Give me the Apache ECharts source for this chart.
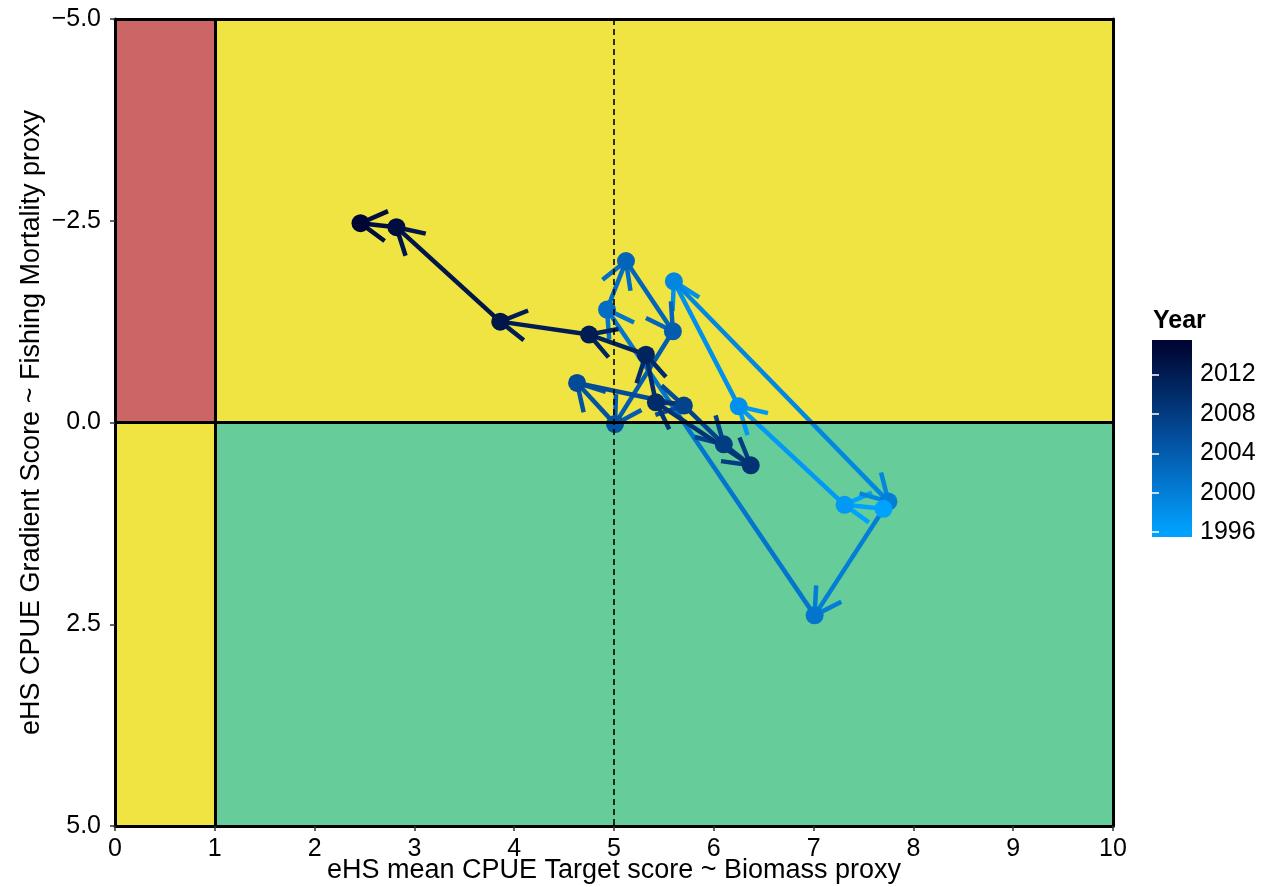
<!DOCTYPE html>
<html><head><meta charset="utf-8">
<script src="https://cdn.jsdelivr.net/npm/echarts@6/dist/echarts.min.js"></script>
<style>html,body{margin:0;padding:0;background:#fff}#c{width:1272px;height:887px}</style>
</head><body><div id="c"></div>
<script>
// ---- data ----
const years = [1996,1997,1998,1999,2000,2001,2002,2003,2004,2005,2006,2007,2008,2009,2010,2011,2012,2013,2014,2015];
const targetScore = [7.70,7.31,6.25,5.60,7.75,7.01,4.93,5.12,5.59,5.01,4.63,5.70,6.10,6.37,5.42,5.32,4.75,3.86,2.82,2.46];
const gradientScore = [1.07,1.02,-0.20,-1.75,0.98,2.39,-1.40,-2.00,-1.13,0.02,-0.49,-0.21,0.27,0.53,-0.25,-0.84,-1.09,-1.25,-2.42,-2.47];
const xTicks = [0,1,2,3,4,5,6,7,8,9,10];
const yTicks = [-5,-2.5,0,2.5,5];
const legendTicks = [1996,2000,2004,2008,2012];
// zones
const zoneX0 = [0,0,1,1];
const zoneX1 = [1,1,10,10];
const zoneY0 = [-5,0,-5,0];
const zoneY1 = [0,5,0,5];
const zoneColors = ['#CC6666','#F0E442','#F0E442','#66CC99'];

// ---- colour scale ----
const yMin = 1996, yMax = 2015;
const stops = [[0,[0,162,255]],[0.25,[3,119,208]],[0.5,[3,79,158]],[0.75,[1,42,102]],[1,[0,5,51]]];
function yearColor(y){
  let t = (y - yMin)/(yMax - yMin); t = Math.max(0, Math.min(1, t));
  for (let i=0;i<stops.length-1;i++){
    const a=stops[i], b=stops[i+1];
    if (t<=b[0]){
      const f=(t-a[0])/(b[0]-a[0]);
      const c=a[1].map((v,k)=>Math.round(v+(b[1][k]-v)*f));
      return 'rgb('+c.join(',')+')';
    }
  }
  return 'rgb('+stops[stops.length-1][1].join(',')+')';
}

const segData = [];
for (let i=0;i<years.length-1;i++){
  segData.push([targetScore[i],gradientScore[i],targetScore[i+1],gradientScore[i+1],years[i]]);
}
const ptData = years.map((y,i)=>[targetScore[i],gradientScore[i],y]).reverse();

const FONT = '"Liberation Sans", Arial, sans-serif';
const minus = v => String(v).replace('-', '\u2212');

const chart = echarts.init(document.getElementById('c'), null, {renderer:'canvas'});
const legTop = 340, legH = 197;
const option = {
  animation:false,
  backgroundColor:'#fff',
  textStyle:{fontFamily:FONT},
  grid:[
    {left:115, top:19, right:159, bottom:61, containLabel:false, outerBoundsMode:'none'},
    {left:1152, top:legTop, width:40, height:legH, containLabel:false, outerBoundsMode:'none'}
  ],
  xAxis:[
    {type:'value', gridIndex:0, min:0, max:10, interval:1, position:'bottom', z:10,
     axisLine:{show:true, onZero:false, lineStyle:{color:'#000', width:3}},
     axisTick:{show:true, length:5, lineStyle:{color:'#333', width:1.5}},
     axisLabel:{color:'#000', fontSize:25, margin:11, fontFamily:FONT},
     splitLine:{show:false},
     name:'eHS mean CPUE Target score ~ Biomass proxy', nameLocation:'middle', nameGap:31, nameMoveOverlap:false,
     nameTextStyle:{color:'#000', fontSize:27, fontFamily:FONT}},
    {type:'value', gridIndex:0, min:0, max:10, position:'top', z:10,
     axisLine:{show:true, onZero:false, lineStyle:{color:'#000', width:3}},
     axisTick:{show:false}, axisLabel:{show:false}, splitLine:{show:false}},
    {type:'value', gridIndex:1, min:0, max:1, show:false}
  ],
  yAxis:[
    {type:'value', gridIndex:0, min:-5, max:5, interval:2.5, inverse:true, position:'left', z:10,
     axisLine:{show:true, onZero:false, lineStyle:{color:'#000', width:3}},
     axisTick:{show:true, length:5, lineStyle:{color:'#333', width:1.5}},
     axisLabel:{color:'#000', fontSize:25, margin:14, fontFamily:FONT, formatter:v=>minus(v.toFixed(1))},
     splitLine:{show:false},
     name:'eHS CPUE Gradient Score ~ Fishing Mortality proxy', nameLocation:'middle', nameGap:70, nameMoveOverlap:false,
     nameTextStyle:{color:'#000', fontSize:27, fontFamily:FONT}},
    {type:'value', gridIndex:0, min:-5, max:5, inverse:true, position:'right', z:10,
     axisLine:{show:true, onZero:false, lineStyle:{color:'#000', width:3}},
     axisTick:{show:false}, axisLabel:{show:false}, splitLine:{show:false}},
    {type:'value', gridIndex:1, min:yMin-0.5, max:yMax+0.5, position:'right', z:10,
     axisLine:{show:false},
     axisTick:{show:true, inside:true, length:7, customValues:legendTicks, lineStyle:{color:'#fff', width:1.5}},
     axisLabel:{show:true, customValues:legendTicks, color:'#000', fontSize:25, margin:8, fontFamily:FONT, formatter:v=>String(v)},
     splitLine:{show:false}},
    {type:'value', gridIndex:1, min:yMin-0.5, max:yMax+0.5, position:'left', z:10,
     axisLine:{show:false},
     axisTick:{show:true, inside:true, length:7, customValues:legendTicks, lineStyle:{color:'#fff', width:1.5}},
     axisLabel:{show:false}, splitLine:{show:false}}
  ],
  graphic:[
    {type:'rect', left:1152, top:legTop, z:-1, shape:{width:40, height:legH},
     style:{fill:{type:'linear', x:0, y:1, x2:0, y2:0, colorStops:[
       {offset:0, color:yearColor(yMin-0.5)},
       ...[0.05,0.25,0.5,0.75,0.95].map(o=>({offset:o, color:yearColor(yMin-0.5+o*(yMax-yMin+1))})),
       {offset:1, color:yearColor(yMax+0.5)}]}}},
    {type:'text', left:1153, top:309, style:{text:'Year', font:'bold 25px '+FONT, fill:'#000'}}
  ],
  series:[
    {type:'line', xAxisIndex:0, yAxisIndex:0, data:[], z:1, silent:true,
     markArea:{silent:true, itemStyle:{opacity:1},
       data: zoneColors.map((c,i)=>[{xAxis:zoneX0[i], yAxis:zoneY0[i], itemStyle:{color:c}},{xAxis:zoneX1[i], yAxis:zoneY1[i]}])},
     markLine:{silent:true, symbol:'none', label:{show:false},
       data:[
         {xAxis:1, lineStyle:{color:'#000', width:3, type:'solid'}},
         {yAxis:0, lineStyle:{color:'#000', width:3, type:'solid'}},
         {xAxis:5, lineStyle:{color:'#000', width:1.6, type:[6,4]}}
       ]}},
    {type:'custom', xAxisIndex:0, yAxisIndex:0, z:3, silent:true,
     data:segData, encode:{x:[0,2], y:[1,3]},
     renderItem:function(params, api){
       const p0 = api.coord([api.value(0), api.value(1)]);
       const p1 = api.coord([api.value(2), api.value(3)]);
       const col = yearColor(api.value(4));
       const ang = Math.atan2(p0[1]-p1[1], p0[0]-p1[0]);
       const L = 30, a = Math.PI/6;
       const b1 = [p1[0]+L*Math.cos(ang+a), p1[1]+L*Math.sin(ang+a)];
       const b2 = [p1[0]+L*Math.cos(ang-a), p1[1]+L*Math.sin(ang-a)];
       return {type:'group', children:[
         {type:'polyline', shape:{points:[p0,p1]}, style:{stroke:col, lineWidth:4.5, fill:null, lineCap:'butt'}},
         {type:'polyline', shape:{points:[b1,p1,b2]}, style:{stroke:col, lineWidth:4.5, fill:null, lineCap:'butt', lineJoin:'miter'}}
       ]};
     }},
    {type:'scatter', xAxisIndex:0, yAxisIndex:0, z:4, silent:true, symbol:'circle', symbolSize:18,
     data:ptData,
     itemStyle:{opacity:1, color:p=>yearColor(p.data[2])}}
  ]
};
chart.setOption(option);
</script>
</body></html>
